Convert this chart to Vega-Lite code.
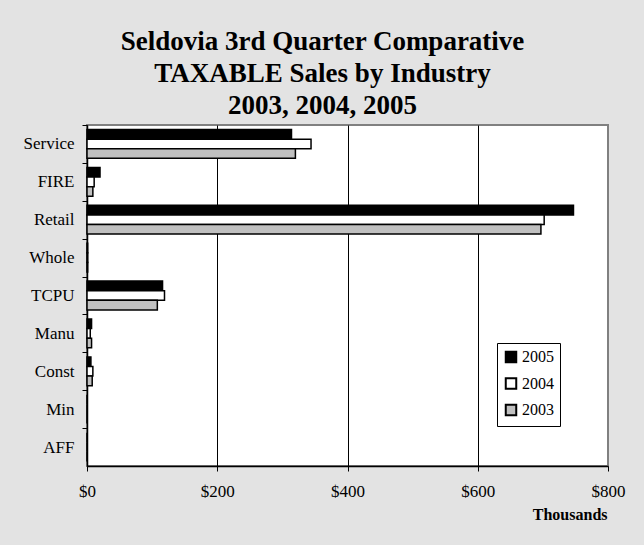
{
  "$schema": "https://vega.github.io/schema/vega-lite/v6.json",
  "width": 521,
  "height": 341,
  "autosize": {"type": "none"},
  "padding": {"left": 87, "top": 125, "right": 36, "bottom": 79},
  "background": "#e3e3e3",
  "title": {
    "text": ["Seldovia 3rd Quarter Comparative", "TAXABLE Sales by Industry", "2003, 2004, 2005"],
    "font": "Liberation Serif",
    "fontSize": 27,
    "fontWeight": "bold",
    "color": "black",
    "lineHeight": 32,
    "anchor": "middle",
    "baseline": "bottom",
    "dx": -25,
    "dy": 28,
    "offset": 6
  },
  "data": {
    "values": [
      {"industry": "Service", "year": "2005", "sales": 314},
      {"industry": "Service", "year": "2004", "sales": 344},
      {"industry": "Service", "year": "2003", "sales": 320},
      {"industry": "FIRE", "year": "2005", "sales": 20},
      {"industry": "FIRE", "year": "2004", "sales": 11},
      {"industry": "FIRE", "year": "2003", "sales": 9},
      {"industry": "Retail", "year": "2005", "sales": 747},
      {"industry": "Retail", "year": "2004", "sales": 702},
      {"industry": "Retail", "year": "2003", "sales": 697},
      {"industry": "Whole", "year": "2005", "sales": 1},
      {"industry": "Whole", "year": "2004", "sales": 1},
      {"industry": "Whole", "year": "2003", "sales": 1},
      {"industry": "TCPU", "year": "2005", "sales": 116},
      {"industry": "TCPU", "year": "2004", "sales": 119},
      {"industry": "TCPU", "year": "2003", "sales": 108},
      {"industry": "Manu", "year": "2005", "sales": 7},
      {"industry": "Manu", "year": "2004", "sales": 5},
      {"industry": "Manu", "year": "2003", "sales": 7},
      {"industry": "Const", "year": "2005", "sales": 6},
      {"industry": "Const", "year": "2004", "sales": 9},
      {"industry": "Const", "year": "2003", "sales": 8},
      {"industry": "Min", "year": "2005", "sales": 0},
      {"industry": "Min", "year": "2004", "sales": 0},
      {"industry": "Min", "year": "2003", "sales": 0},
      {"industry": "AFF", "year": "2005", "sales": 0},
      {"industry": "AFF", "year": "2004", "sales": 0},
      {"industry": "AFF", "year": "2003", "sales": 0}
    ]
  },
  "mark": {"type": "bar", "stroke": "black", "strokeWidth": 1.5},
  "encoding": {
    "y": {
      "field": "industry",
      "type": "nominal",
      "sort": ["Service", "FIRE", "Retail", "Whole", "TCPU", "Manu", "Const", "Min", "AFF"],
      "scale": {"paddingInner": 0.24, "paddingOuter": 0.12},
      "axis": {
        "title": null,
        "domainColor": "black",
        "domainWidth": 1.5,
        "tickColor": "black",
        "tickSize": 5,
        "tickWidth": 1,
        "tickOffset": -18.94,
        "labelOffset": 18.94,
        "labelPadding": 8,
        "labelFont": "Liberation Serif",
        "labelFontSize": 17,
        "labelColor": "black",
        "grid": false
      }
    },
    "yOffset": {
      "field": "year",
      "type": "nominal",
      "sort": ["2005", "2004", "2003"],
      "scale": {"paddingInner": 0, "paddingOuter": 0}
    },
    "x": {
      "field": "sales",
      "type": "quantitative",
      "scale": {"domain": [0, 800], "nice": false},
      "axis": {
        "title": "Thousands",
        "titleFont": "Liberation Serif",
        "titleFontSize": 16,
        "titleFontWeight": "bold",
        "titleColor": "black",
        "titleX": 520,
        "titleY": 53,
        "titleAlign": "right",
        "titleBaseline": "alphabetic",
        "values": [0, 200, 400, 600, 800],
        "labelExpr": "'$' + datum.value",
        "labelFont": "Liberation Serif",
        "labelFontSize": 17,
        "labelColor": "black",
        "labelPadding": 12,
        "labelFlush": false,
        "domainColor": "black",
        "domainWidth": 1.5,
        "tickColor": "black",
        "tickSize": 5,
        "grid": true,
        "gridColor": {"condition": {"test": "datum.value == 800", "value": "#808080"}, "value": "black"},
        "gridOpacity": 1,
        "gridWidth": 1
      }
    },
    "fill": {
      "field": "year",
      "type": "nominal",
      "sort": ["2005", "2004", "2003"],
      "scale": {"domain": ["2005", "2004", "2003"], "range": ["black", "white", "#c0c0c0"]},
      "legend": {
        "title": null,
        "orient": "none",
        "legendX": 410,
        "legendY": 218,
        "direction": "vertical",
        "fillColor": "white",
        "strokeColor": "black",
        "padding": 6,
        "rowPadding": 6.5,
        "symbolType": "square",
        "symbolSize": 110,
        "symbolStrokeColor": "black",
        "symbolStrokeWidth": 2,
        "symbolOpacity": 1,
        "labelFont": "Liberation Serif",
        "labelFontSize": 16,
        "labelColor": "black",
        "labelOffset": 3
      }
    }
  },
  "config": {
    "view": {"fill": "white", "stroke": "#808080", "strokeWidth": 2}
  }
}
